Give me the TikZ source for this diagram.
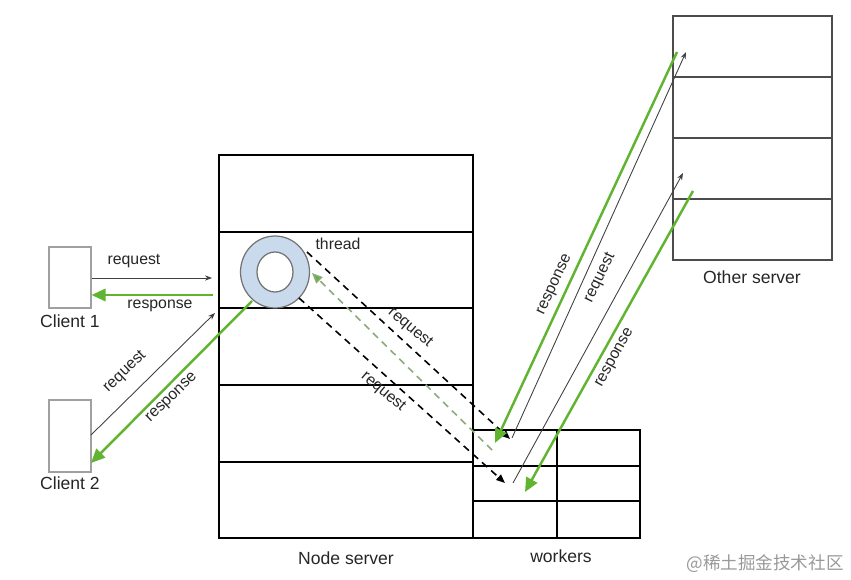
\documentclass[tikz,border=0pt]{standalone}
\usepackage{fontspec}
\setmainfont{Liberation Sans}
\newfontfamily\cjk{Noto Sans CJK SC}
\usetikzlibrary{arrows.meta}
\definecolor{resgreen}{RGB}{96,180,48}
\definecolor{dashgreen}{RGB}{140,170,120}
\definecolor{ringblue}{RGB}{200,218,236}
\definecolor{boxgray}{RGB}{160,160,160}
\tikzset{
  lbl/.style={font=\fontsize{9}{10}\selectfont, text=black!85, inner sep=1pt},
  biglbl/.style={font=\fontsize{10}{12}\selectfont, text=black!85},
  clientbox/.style={draw=boxgray, line width=0.6pt, minimum width=0.84cm},
  reqarrow/.style={draw=black!75, line width=0.5pt, -{Stealth[length=4pt,width=3pt]}},
  resarrow/.style={draw=resgreen, line width=1.4pt, -{Triangle[length=8pt,width=7pt]}},
  dasharrow/.style={draw=black, line width=0.9pt, dash pattern=on 4pt off 3pt, -{Triangle[length=5pt,width=4pt]}},
}
\begin{document}
\begin{tikzpicture}[x=0.02cm,y=-0.02cm]
\useasboundingbox (0,0) rectangle (851,580);
% Node server
\draw[line width=1.4pt] (219,155) rectangle (473,538);
\foreach \y in {232,308,385,462}
  \draw[line width=1.4pt] (219,\y) -- (473,\y);
\node[biglbl] (nodelbl) at (346,558) {Node server};
% Workers
\draw[line width=1pt] (473,430) rectangle (640,538);
\draw[line width=1pt] (473,466) -- (640,466) (473,501) -- (640,501) (557,430) -- (557,538);
\node[biglbl] (worklbl) at (561,556) {workers};
% Other server
\draw[line width=0.9pt, draw=black!70] (673,16) rectangle (832,260);
\foreach \y in {77,138,199}
  \draw[line width=0.9pt, draw=black!70] (673,\y) -- (832,\y);
\node[biglbl] (otherlbl) at (752,277) {Other server};
% Clients
\node[clientbox, minimum height=1.22cm] (c1) at (70,277.5) {};
\node[clientbox, minimum height=1.44cm] (c2) at (70,436) {};
\node[biglbl] (c1lbl) at (70,321) {Client 1};
\node[biglbl] (c2lbl) at (70,483) {Client 2};
% Thread
\coordinate (thr) at (275,272);
\draw[fill=ringblue, draw=black!55, line width=0.7pt, even odd rule]
  (thr) ellipse [x radius=0.69cm, y radius=0.72cm]
  (thr) ellipse [x radius=0.36cm, y radius=0.40cm];
\node[lbl] (thrlbl) at (338,244) {thread};
% Client 1 <-> Node server
\coordinate (c1req) at (212,278);
\coordinate (c1res) at (213,295);
\draw[reqarrow] (c1.east |- c1req) -- (c1req);
\draw[resarrow] (c1res) -- (c1.east |- c1res);
\node[lbl] (c1reqlbl) at (134,261) {request};
\node[lbl] (c1reslbl) at (160,306) {response};
% Client 2 <-> Node server
\coordinate (c2a) at (91,435);
\coordinate (c2req) at (215,313);
\coordinate (ringsw) at (252,301);
\coordinate (c2res) at (91,463);
\draw[reqarrow] (c2a) -- (c2req);
\draw[resarrow] (ringsw) -- (c2res);
\node[lbl, rotate=44] (c2reqlbl) at (125,372) {request};
\node[lbl, rotate=44] (c2reslbl) at (172,398) {response};
% Thread -> workers
\coordinate (thrne) at (307,252);
\coordinate (thrse) at (299,298);
\coordinate (thre) at (312,273);
\coordinate (wk1) at (510,439);
\coordinate (wk2) at (505,483);
\coordinate (wk0) at (492,450);
\draw[dasharrow] (thrne) -- (wk1);
\draw[dasharrow] (thrse) -- (wk2);
\draw[dasharrow, draw=dashgreen, -{Triangle[length=6pt,width=5pt,fill=resgreen]}] (wk0) -- (thre);
\node[lbl, rotate=-40] (dreq1) at (410,328) {request};
\node[lbl, rotate=-40] (dreq2) at (383,392) {request};
% Workers <-> Other server
\coordinate (os1) at (677,52);
\coordinate (os2) at (686,52);
\coordinate (os3) at (683,173);
\coordinate (os4) at (693,191);
\coordinate (wr1) at (495,443);
\coordinate (wq1) at (512,438);
\coordinate (wq2) at (513,483);
\coordinate (wr2) at (525,492);
\draw[resarrow] (os1) -- (wr1);
\draw[reqarrow] (wq1) -- (os2);
\draw[reqarrow] (wq2) -- (os3);
\draw[resarrow] (os4) -- (wr2);
\node[lbl, rotate=65] (oreslbl1) at (555,285) {response};
\node[lbl, rotate=64] (oreqlbl) at (600,278) {request};
\node[lbl, rotate=61] (oreslbl2) at (615,358) {response};
% Watermark
\node[text=black!40, font=\cjk\fontsize{10}{12}\selectfont] (wm) at (765,564) {@稀土掘金技术社区};
\end{tikzpicture}
\end{document}
